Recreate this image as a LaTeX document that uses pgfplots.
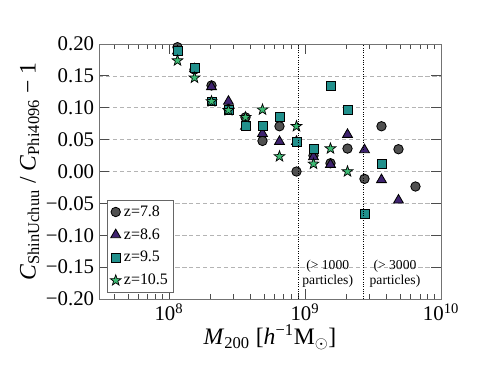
\documentclass[border=0pt]{standalone}
\usepackage{fontspec}
\setmainfont{Liberation Serif}
\usepackage{pgfplots}
\pgfplotsset{compat=1.18}

\definecolor{cgray}{HTML}{505050}
\definecolor{cpurple}{HTML}{3F2370}
\definecolor{cteal}{HTML}{21908C}
\definecolor{cgreen}{HTML}{3DBB74}
\definecolor{gridgray}{HTML}{B4B4B4}

% filled five-pointed star, like matplotlib's '*'
\pgfdeclareplotmark{fstar}{%
  \pgfpathmoveto{\pgfpointpolar{90}{\pgfplotmarksize}}%
  \pgfpathlineto{\pgfpointpolar{126}{0.4\pgfplotmarksize}}%
  \pgfpathlineto{\pgfpointpolar{162}{\pgfplotmarksize}}%
  \pgfpathlineto{\pgfpointpolar{198}{0.4\pgfplotmarksize}}%
  \pgfpathlineto{\pgfpointpolar{234}{\pgfplotmarksize}}%
  \pgfpathlineto{\pgfpointpolar{270}{0.4\pgfplotmarksize}}%
  \pgfpathlineto{\pgfpointpolar{306}{\pgfplotmarksize}}%
  \pgfpathlineto{\pgfpointpolar{342}{0.4\pgfplotmarksize}}%
  \pgfpathlineto{\pgfpointpolar{18}{\pgfplotmarksize}}%
  \pgfpathlineto{\pgfpointpolar{54}{0.4\pgfplotmarksize}}%
  \pgfpathclose
  \pgfusepathqfillstroke}

\begin{document}
\begin{tikzpicture}
\begin{axis}[
  scale only axis,
  width=246.2pt, height=183.6pt,
  xmode=log, log basis x=10,
  xmin=3.06e7, xmax=1e10,
  ymin=-0.2, ymax=0.2,
  xtick={1e8,1e9,1e10},
  xticklabels={10\textsuperscript{8},10\textsuperscript{9},10\textsuperscript{10}},
  minor xtick={4e7,5e7,6e7,7e7,8e7,9e7,2e8,3e8,4e8,5e8,6e8,7e8,8e8,9e8,2e9,3e9,4e9,5e9,6e9,7e9,8e9,9e9},
  ytick={-0.2,-0.15,-0.1,-0.05,0,0.05,0.1,0.15,0.2},
  yticklabels={−0.20,−0.15,−0.10,−0.05,0.00,0.05,0.10,0.15,0.20},
  tick align=inside,
  major tick length=7pt, minor tick length=3.5pt,
  every tick/.style={black!70, line width=0.6pt},
  axis line style={black!55, line width=0.7pt},
  ticklabel style={font=\fontsize{15}{18}\selectfont},
  ymajorgrids,
  grid style={gridgray, dash pattern=on 3pt off 2pt, line width=0.5pt},
  clip mode=individual,
  xlabel={\textit{M}\textsubscript{200} [\textit{h}\textsuperscript{−1}M\textsubscript{$\odot$}]},
  ylabel={\textit{C}\textsubscript{ShinUchuu} / \textit{C}\textsubscript{Phi4096} − 1},
  label style={font=\fontsize{17}{20}\selectfont},
  xlabel style={at={(axis description cs:0.5,-0.15)}, anchor=center},
  ylabel style={at={(axis description cs:-0.203,0.5)}, anchor=center},
  legend style={at={(0.024,0.025)}, anchor=south west, draw=black!60, fill=white,
    font=\fontsize{11.5}{13}\selectfont, row sep=3.3pt, inner sep=2pt},
  legend cell align=left,
  legend image code/.code={\draw[mark repeat=2, mark phase=2] plot coordinates {(0pt,0pt) (11pt,0pt) (25pt,0pt)};},
]
\addplot[only marks, mark=*, mark size=3.4pt, draw=black, fill=cgray, line width=0.6pt] coordinates {
  (1.155e8,0.195) (1.540e8,0.160) (2.054e8,0.135) (2.738e8,0.098) (3.652e8,0.085)
  (4.870e8,0.048) (6.494e8,0.071) (8.660e8,0.000) (1.155e9,0.025) (1.540e9,0.013)
  (2.054e9,0.036) (2.738e9,-0.0115) (3.652e9,0.071) (4.870e9,0.035) (6.494e9,-0.0235)
};
\addplot[only marks, mark=triangle*, mark size=4.1pt, draw=black, fill=cpurple, line width=0.6pt] coordinates {
  (1.155e8,0.189) (1.540e8,0.161) (2.054e8,0.133) (2.738e8,0.110) (3.652e8,0.071)
  (4.870e8,0.0595) (6.494e8,0.047) (8.660e8,0.047) (1.155e9,0.023) (1.540e9,0.011)
  (2.054e9,0.058) (2.738e9,0.034) (3.652e9,-0.013) (4.870e9,-0.045)
};
\addplot[only marks, mark=square*, mark size=3.2pt, draw=black, fill=cteal, line width=0.6pt] coordinates {
  (1.155e8,0.189) (1.540e8,0.162) (2.054e8,0.110) (2.738e8,0.096) (3.652e8,0.071)
  (4.870e8,0.071) (6.494e8,0.085) (8.660e8,0.047) (1.155e9,0.036) (1.540e9,0.134)
  (2.054e9,0.097) (2.738e9,-0.067) (3.652e9,0.012)
};
\addplot[only marks, mark=fstar, mark size=4.1pt, draw=black, fill=cgreen, line width=0.5pt] coordinates {
  (1.155e8,0.174) (1.540e8,0.147) (2.054e8,0.110) (2.738e8,0.096) (3.652e8,0.085)
  (4.870e8,0.097) (6.494e8,0.0237) (8.660e8,0.071) (1.155e9,0.012) (1.540e9,0.036)
  (2.054e9,0.000)
};
\addplot[black, densely dotted, line width=0.7pt, forget plot] coordinates {(8.97e8,-0.2) (8.97e8,0.2)};
\addplot[black, densely dotted, line width=0.7pt, forget plot] coordinates {(2.691e9,-0.2) (2.691e9,0.2)};
\node[align=center, font=\fontsize{9.8}{11}\selectfont] at (axis cs:1.47e9,-0.160) {(> 1000\\particles)};
\node[align=center, font=\fontsize{9.8}{11}\selectfont] at (axis cs:4.59e9,-0.160) {(> 3000\\particles)};
\legend{z=7.8, z=8.6, z=9.5, z=10.5}
\end{axis}
\path ([xshift=-71.3pt,yshift=-49.7pt]current axis.south west) rectangle ([xshift=35.3pt,yshift=31.7pt]current axis.north east);
\end{tikzpicture}
\end{document}
